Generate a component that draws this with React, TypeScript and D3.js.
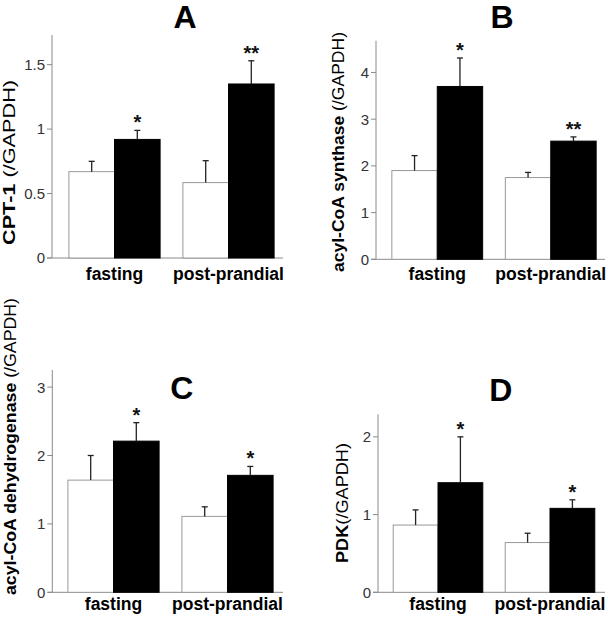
import React from "react";
import * as d3 from "d3";

const categories = ["fasting", "post-prandial"];
const groups = ["control", "treated"];

// Panel A: CPT-1
const aControl = [0.67, 0.585];
const aControlErr = [0.08, 0.17];
const aTreated = [0.92, 1.35];
const aTreatedErr = [0.07, 0.18];
const aSig = ["*", "**"];
const aTicks = [0, 0.5, 1, 1.5];
const aTickLabels = ["0", "0.5", "1", "1.5"];

// Panel B: acyl-CoA synthase
const bControl = [1.9, 1.75];
const bControlErr = [0.32, 0.11];
const bTreated = [3.7, 2.53];
const bTreatedErr = [0.61, 0.09];
const bSig = ["*", "**"];
const bTicks = [0, 1, 2, 3, 4];
const bTickLabels = ["0", "1", "2", "3", "4"];

// Panel C: acyl-CoA dehydrogenase
const cControl = [1.64, 1.11];
const cControlErr = [0.36, 0.14];
const cTreated = [2.21, 1.71];
const cTreatedErr = [0.27, 0.13];
const cSig = ["*", "*"];
const cTicks = [0, 1, 2, 3];
const cTickLabels = ["0", "1", "2", "3"];

// Panel D: PDK
const dControl = [0.865, 0.64];
const dControlErr = [0.195, 0.12];
const dTreated = [1.41, 1.08];
const dTreatedErr = [0.59, 0.11];
const dSig = ["*", "*"];
const dTicks = [0, 1, 2];
const dTickLabels = ["0", "1", "2"];

const FONT = "'Liberation Sans', Arial, Helvetica, sans-serif";

type PanelProps = {
  letter: string;
  letterX: number;
  letterY: number;
  labelBold: string;
  labelRegular: string;
  labelX: number;
  labelY: number;
  labelLen: number;
  axisX: number;
  baseY: number;
  topY: number;
  yMax: number;
  xStart: number;
  xEnd: number;
  lineEnd: number;
  catY: number;
  control: number[];
  controlErr: number[];
  treated: number[];
  treatedErr: number[];
  sig: string[];
  ticks: number[];
  tickLabels: string[];
};

function Panel(p: PanelProps) {
  const y = d3.scaleLinear().domain([0, p.yMax]).range([p.baseY, p.topY]);
  const x0 = d3
    .scaleBand<string>()
    .domain(categories)
    .range([p.xStart, p.xEnd])
    .paddingInner(0.2)
    .paddingOuter(0.1);
  const x1 = d3.scaleBand<string>().domain(groups).range([0, x0.bandwidth()]).padding(0);
  const series = [
    { key: "control", vals: p.control, errs: p.controlErr },
    { key: "treated", vals: p.treated, errs: p.treatedErr },
  ];
  const axisColor = "#8a8a8a";
  return (
    <g>
      <text
        x={p.letterX}
        y={p.letterY}
        textAnchor="middle"
        fontFamily={FONT}
        fontWeight="bold"
        fontSize={32}
        fill="#000"
      >
        {p.letter}
      </text>
      <text
        transform={`translate(${p.labelX},${p.labelY}) rotate(-90)`}
        textAnchor="middle"
        fontFamily={FONT}
        fontSize={17}
        fill="#000"
        textLength={p.labelLen}
        lengthAdjust="spacingAndGlyphs"
      >
        <tspan fontWeight="bold">{p.labelBold}</tspan>
        <tspan>{p.labelRegular}</tspan>
      </text>
      {/* axes */}
      <line x1={p.axisX} x2={p.axisX} y1={p.topY} y2={p.baseY} stroke={axisColor} strokeWidth={1} />
      <line x1={p.axisX - 5} x2={p.lineEnd} y1={p.baseY} y2={p.baseY} stroke={axisColor} strokeWidth={1} />
      {p.ticks.map((t, i) => (
        <g key={i}>
          <line x1={p.axisX - 5} x2={p.axisX} y1={y(t)} y2={y(t)} stroke={axisColor} strokeWidth={1} />
          <text
            x={p.axisX - 7}
            y={y(t)}
            dy="0.36em"
            textAnchor="end"
            fontFamily={FONT}
            fontSize={15}
            fill="#333"
          >
            {p.tickLabels[i]}
          </text>
        </g>
      ))}
      {/* bars */}
      {categories.map((c, ci) => (
        <g key={c}>
          {series.map((s) => {
            const bx = (x0(c) ?? 0) + (x1(s.key) ?? 0);
            const bw = x1.bandwidth();
            const v = s.vals[ci];
            const top = y(v);
            const errTop = y(v + s.errs[ci]);
            const cx = bx + bw / 2;
            const isCtrl = s.key === "control";
            return (
              <g key={s.key}>
                <rect
                  x={bx}
                  y={top}
                  width={bw}
                  height={p.baseY - top}
                  fill={isCtrl ? "#fff" : "#000"}
                  stroke={isCtrl ? "#999" : "#000"}
                  strokeWidth={1}
                />
                <line x1={cx} x2={cx} y1={top} y2={errTop} stroke="#222" strokeWidth={1.3} />
                <line x1={cx - 3} x2={cx + 3} y1={errTop} y2={errTop} stroke="#222" strokeWidth={1.3} />
                {!isCtrl && (
                  <text
                    x={cx}
                    y={errTop - 1}
                    textAnchor="middle"
                    fontFamily={FONT}
                    fontWeight="bold"
                    fontSize={20}
                    fill="#111"
                  >
                    {p.sig[ci]}
                  </text>
                )}
              </g>
            );
          })}
          <text
            x={(x0(c) ?? 0) + x0.bandwidth() / 2}
            y={p.catY}
            textAnchor="middle"
            fontFamily={FONT}
            fontWeight="bold"
            fontSize={17.5}
            fill="#000"
          >
            {c}
          </text>
        </g>
      ))}
    </g>
  );
}

export default function App() {
  return (
    <svg
      width={608}
      height={617}
      viewBox="0 0 608 617"
      style={{ position: "absolute", left: 0, top: 0, background: "#fff" }}
    >
      <rect width={608} height={617} fill="#fff" />
      <Panel
        letter="A"
        letterX={185}
        letterY={27.5}
        labelBold="CPT-1 "
        labelRegular="(/GAPDH)"
        labelX={15}
        labelY={162.5}
        labelLen={165}
        axisX={52}
        baseY={258}
        topY={35}
        yMax={1.73}
        xStart={57.5}
        xEnd={285.5}
        lineEnd={283}
        catY={279.5}
        control={aControl}
        controlErr={aControlErr}
        treated={aTreated}
        treatedErr={aTreatedErr}
        sig={aSig}
        ticks={aTicks}
        tickLabels={aTickLabels}
      />
      <Panel
        letter="B"
        letterX={502}
        letterY={27.5}
        labelBold="acyl-CoA synthase "
        labelRegular="(/GAPDH)"
        labelX={344}
        labelY={152}
        labelLen={240}
        axisX={376}
        baseY={259.3}
        topY={40.7}
        yMax={4.68}
        xStart={380.5}
        xEnd={607.5}
        lineEnd={605}
        catY={279.5}
        control={bControl}
        controlErr={bControlErr}
        treated={bTreated}
        treatedErr={bTreatedErr}
        sig={bSig}
        ticks={bTicks}
        tickLabels={bTickLabels}
      />
      <Panel
        letter="C"
        letterX={181.7}
        letterY={399}
        labelBold="acyl-CoA dehydrogenase "
        labelRegular="(/GAPDH)"
        labelX={16}
        labelY={446.5}
        labelLen={297}
        axisX={52.3}
        baseY={592.3}
        topY={370}
        yMax={3.25}
        xStart={56.5}
        xEnd={284.5}
        lineEnd={283}
        catY={609.5}
        control={cControl}
        controlErr={cControlErr}
        treated={cTreated}
        treatedErr={cTreatedErr}
        sig={cSig}
        ticks={cTicks}
        tickLabels={cTickLabels}
      />
      <Panel
        letter="D"
        letterX={500.7}
        letterY={401}
        labelBold="PDK"
        labelRegular="(/GAPDH)"
        labelX={348}
        labelY={503}
        labelLen={120}
        axisX={378}
        baseY={592.3}
        topY={414.3}
        yMax={2.29}
        xStart={382}
        xEnd={606}
        lineEnd={605}
        catY={609.5}
        control={dControl}
        controlErr={dControlErr}
        treated={dTreated}
        treatedErr={dTreatedErr}
        sig={dSig}
        ticks={dTicks}
        tickLabels={dTickLabels}
      />
    </svg>
  );
}
